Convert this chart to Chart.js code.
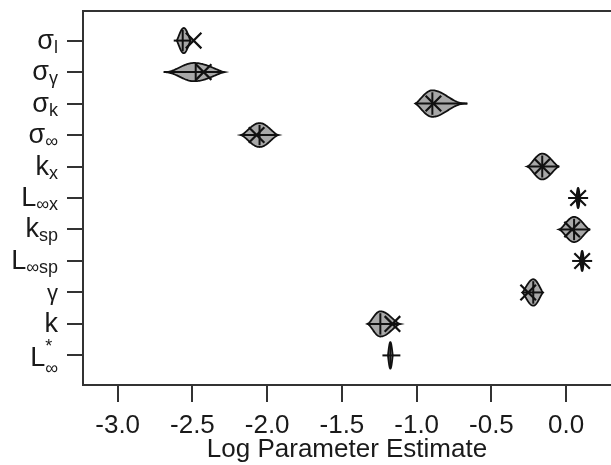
<!DOCTYPE html>
<html>
<head>
<meta charset="utf-8">
<script src="https://cdn.jsdelivr.net/npm/chart.js@4.4.1/dist/chart.umd.min.js"></script>
<style>
html, body { margin: 0; padding: 0; background: #fff; overflow: hidden; }
canvas { display: block; }
</style>
</head>
<body>
<canvas id="grafico" width="611" height="465"></canvas>
<script>
// parameter labels (main symbol, subscript, superscript)
const labelMain = ['σ', 'σ', 'σ', 'σ', 'k', 'L', 'k', 'L', 'γ', 'k', 'L'];
const labelSub = ['l', 'γ', 'k', '∞', 'x', '∞x', 'sp', '∞sp', '', '', '∞'];
const labelSup = ['', '', '', '', '', '', '', '', '', '', '*'];

// violin extents (log scale)
const vioMin = [-2.605, -2.692, -1.009, -2.178, -0.261, 0.068, -0.047, 0.095, -0.294, -1.329, -1.192];
const vioPeak = [-2.558, -2.490, -0.895, -2.051, -0.160, 0.080, 0.053, 0.107, -0.220, -1.243, -1.176];
const vioMax = [-2.512, -2.285, -0.661, -1.924, -0.047, 0.092, 0.160, 0.119, -0.154, -1.109, -1.160];
const vioHalf = [0.40, 0.29, 0.42, 0.38, 0.41, 0.32, 0.40, 0.32, 0.42, 0.40, 0.42];
const tailLeft = [1.2, 2.2, 1.3, 1.5, 1.5, 1, 1.5, 1, 1.3, 1.5, 1];
const tailRight = [1.2, 1.3, 2.5, 1.5, 1.5, 1, 1.5, 1, 1.3, 1.5, 1];

// range line and median
const lineLo = [-2.625, -2.692, -1.009, -2.178, -0.261, 0.013, -0.047, 0.040, -0.294, -1.329, -1.229];
const lineHi = [-2.512, -2.285, -0.661, -1.924, -0.047, 0.147, 0.160, 0.174, -0.154, -1.109, -1.109];
const medianVal = [-2.565, -2.478, -0.895, -2.051, -0.160, 0.080, 0.053, 0.107, -0.220, -1.243, -1.176];

// true values (x marks)
const trueVal = [-2.492, -2.425, -0.888, -2.071, -0.160, 0.080, 0.040, 0.107, -0.254, -1.162, null];

const xTicks = [-3.0, -2.5, -2.0, -1.5, -1.0, -0.5, 0.0];

const points = [];
trueVal.forEach(function (v, i) {
    if (v !== null) points.push({ x: v, y: i + 1 });
});

const fontFam = '"Liberation Sans", Arial, Helvetica, sans-serif';

const violinPlugin = {
    id: 'violins',
    beforeDatasetsDraw: function (chart) {
        const ctx = chart.ctx;
        const xs = chart.scales.x;
        const ys = chart.scales.y;
        ctx.save();
        for (let i = 0; i < vioMin.length; i++) {
            const yc = ys.getPixelForValue(i + 1);
            const hpx = Math.abs(ys.getPixelForValue(i + 1 + vioHalf[i]) - yc);
            const n = 60;
            const top = [];
            for (let k = 0; k <= n; k++) {
                const v = vioMin[i] + (vioMax[i] - vioMin[i]) * k / n;
                let w;
                if (v <= vioPeak[i]) {
                    const t = (v - vioMin[i]) / (vioPeak[i] - vioMin[i]);
                    w = Math.pow(Math.sin(t * Math.PI / 2), tailLeft[i]);
                } else {
                    const t = (vioMax[i] - v) / (vioMax[i] - vioPeak[i]);
                    w = Math.pow(Math.sin(t * Math.PI / 2), tailRight[i]);
                }
                top.push([xs.getPixelForValue(v), w * hpx]);
            }
            ctx.beginPath();
            top.forEach(function (p, k) {
                if (k === 0) ctx.moveTo(p[0], yc - p[1]);
                else ctx.lineTo(p[0], yc - p[1]);
            });
            for (let k = top.length - 1; k >= 0; k--) {
                ctx.lineTo(top[k][0], yc + top[k][1]);
            }
            ctx.closePath();
            ctx.fillStyle = '#a8a8a8';
            ctx.fill();
            ctx.lineWidth = 1.8;
            ctx.strokeStyle = '#111';
            ctx.stroke();

            // range line
            ctx.beginPath();
            ctx.moveTo(xs.getPixelForValue(lineLo[i]), yc);
            ctx.lineTo(xs.getPixelForValue(lineHi[i]), yc);
            ctx.lineWidth = 2;
            ctx.stroke();

            // median tick
            const mx = xs.getPixelForValue(medianVal[i]);
            const ml = Math.max(hpx * 0.85, 9);
            ctx.beginPath();
            ctx.moveTo(mx, yc - ml);
            ctx.lineTo(mx, yc + ml);
            ctx.stroke();
        }
        ctx.restore();
    }
};

const labelPlugin = {
    id: 'paramLabels',
    afterDraw: function (chart) {
        const ctx = chart.ctx;
        const ys = chart.scales.y;
        const area = chart.chartArea;
        const rightEdge = 58;
        ctx.save();
        ctx.fillStyle = '#1a1a1a';
        ctx.textBaseline = 'alphabetic';
        for (let i = 0; i < labelMain.length; i++) {
            const yc = ys.getPixelForValue(i + 1);
            const mainFont = (labelMain[i] === 'γ' && !labelSub[i] ? '22px ' : '27px ') + fontFam;
            const subFont = '18px ' + fontFam;
            ctx.font = mainFont;
            const wm = ctx.measureText(labelMain[i]).width;
            ctx.font = subFont;
            const wsub = labelSub[i] ? ctx.measureText(labelSub[i]).width : 0;
            const x0 = rightEdge - wm - wsub;
            let baseMain = yc + 8;
            let baseSub = yc + 12;
            if (labelSup[i]) {
                baseMain = yc + 11;
                baseSub = yc + 19;
            }
            ctx.font = mainFont;
            ctx.fillText(labelMain[i], x0, baseMain);
            if (labelSub[i]) {
                ctx.font = subFont;
                ctx.fillText(labelSub[i], x0 + wm, baseSub);
            }
            if (labelSup[i]) {
                ctx.font = subFont;
                ctx.fillText(labelSup[i], x0 + wm, yc - 3);
            }
        }
        // top border of the box (right side falls outside the picture)
        ctx.beginPath();
        ctx.moveTo(area.left, area.top);
        ctx.lineTo(chart.width, area.top);
        ctx.lineWidth = 2;
        ctx.strokeStyle = '#333';
        ctx.stroke();
        ctx.restore();
    }
};

const ctx = document.getElementById('grafico').getContext('2d');
const grafico = new Chart(ctx, {
    type: 'scatter',
    data: {
        datasets: [{
            label: 'True value',
            data: points,
            pointStyle: 'crossRot',
            pointRadius: 11,
            borderColor: '#111',
            borderWidth: 2.2,
            clip: false
        }]
    },
    options: {
        responsive: false,
        animation: false,
        layout: { autoPadding: false, padding: { left: 0, right: 0, top: 11, bottom: 0 } },
        plugins: {
            legend: { display: false },
            tooltip: { enabled: false }
        },
        scales: {
            x: {
                type: 'linear',
                min: -3.232,
                max: 0.30,
                afterBuildTicks: function (scale) {
                    scale.ticks = xTicks.map(function (v) { return { value: v }; });
                },
                afterFit: function (scale) {
                    scale.height = 80;
                    scale.paddingLeft = 0;
                    scale.paddingRight = 0;
                },
                ticks: {
                    callback: function (v) { return v.toFixed(1); },
                    font: { size: 26, family: fontFam },
                    color: '#1a1a1a',
                    padding: 8,
                    maxRotation: 0
                },
                grid: { drawOnChartArea: false, drawTicks: true, tickLength: 17, color: '#333', lineWidth: 2 },
                border: { display: true, color: '#333', width: 2 },
                title: {
                    display: true,
                    text: 'Log Parameter Estimate',
                    font: { size: 26, family: fontFam },
                    color: '#1a1a1a',
                    padding: { top: 7, bottom: 0 }
                }
            },
            y: {
                type: 'linear',
                min: 0.06,
                max: 11.94,
                reverse: true,
                afterBuildTicks: function (scale) {
                    scale.ticks = labelMain.map(function (l, i) { return { value: i + 1 }; });
                },
                afterFit: function (scale) {
                    scale.width = 83;
                    scale.paddingTop = 0;
                    scale.paddingBottom = 0;
                },
                ticks: {
                    callback: function () { return ''; }
                },
                grid: { drawOnChartArea: false, drawTicks: true, tickLength: 16, color: '#333', lineWidth: 2 },
                border: { display: true, color: '#333', width: 2 }
            }
        }
    },
    plugins: [violinPlugin, labelPlugin]
});
</script>
</body>
</html>
